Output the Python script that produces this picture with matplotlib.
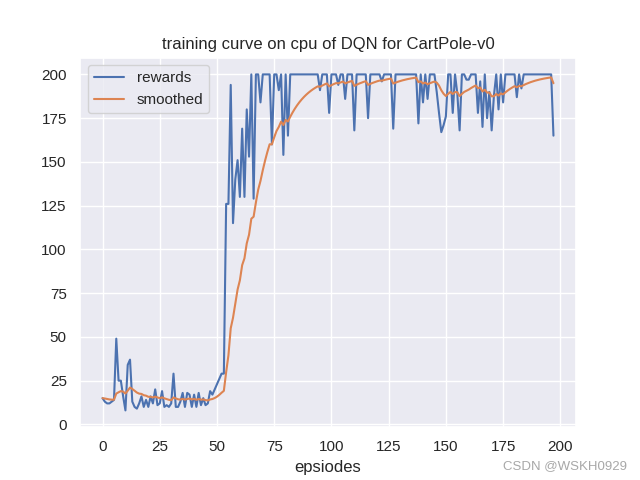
import numpy as np
import matplotlib.pyplot as plt
import seaborn as sns

sns.set_theme(style='darkgrid')
plt.rcParams['font.family'] = ['Liberation Sans', 'DejaVu Sans']

# rewards per episode
rewards = [15, 13, 12, 12, 13, 14, 49, 25, 25, 16,
           8, 34, 37, 13, 10, 9, 12, 16, 10, 14,
           10, 16, 12, 20, 11, 12, 19, 10, 11, 10,
           12, 29, 10, 10, 13, 18, 10, 18, 17, 10,
           17, 10, 18, 11, 15, 11, 12, 19, 17, 20,
           23, 26, 29, 29, 126, 126, 194, 115, 140, 151,
           130, 169, 130, 180, 153, 200, 129, 200, 200, 184,
           200, 200, 200, 200, 160, 200, 200, 191, 200, 154,
           200, 165, 200, 200, 200, 200, 200, 200, 200, 200,
           200, 200, 200, 200, 200, 191, 200, 200, 200, 178,
           200, 200, 200, 194, 200, 200, 186, 200, 200, 200,
           168, 200, 200, 200, 200, 200, 175, 200, 200, 200,
           200, 200, 196, 200, 200, 200, 200, 169, 200, 200,
           200, 200, 200, 200, 200, 200, 200, 200, 172, 200,
           184, 200, 186, 200, 200, 200, 190, 178, 167, 171,
           176, 200, 200, 178, 200, 189, 168, 200, 200, 197,
           197, 200, 200, 200, 178, 196, 170, 200, 175, 190,
           168, 188, 200, 180, 200, 184, 200, 200, 200, 200,
           200, 187, 200, 192, 200, 200, 200, 200, 200, 200,
           200, 200, 200, 200, 200, 200, 200, 165]

# moving average as in the training script
smoothed = []
for r in rewards:
    if smoothed:
        smoothed.append(smoothed[-1] * 0.9 + r * 0.1)
    else:
        smoothed.append(r)

fig, ax = plt.subplots(figsize=(6.4, 4.8), dpi=100)
ax.plot(rewards, label='rewards')
ax.plot(smoothed, label='smoothed')
ax.set_title('training curve on cpu of DQN for CartPole-v0', fontsize=12)
ax.set_xlabel('epsiodes', fontsize=12)
ax.tick_params(labelsize=11)
ax.legend(loc='upper left', fontsize=11)

# watermark
fig.text(0.98, 0.029, 'CSDN @WSKH0929', ha='right', va='center',
         color='#a8a8a8', fontsize=9.5)

plt.savefig('out.png')
